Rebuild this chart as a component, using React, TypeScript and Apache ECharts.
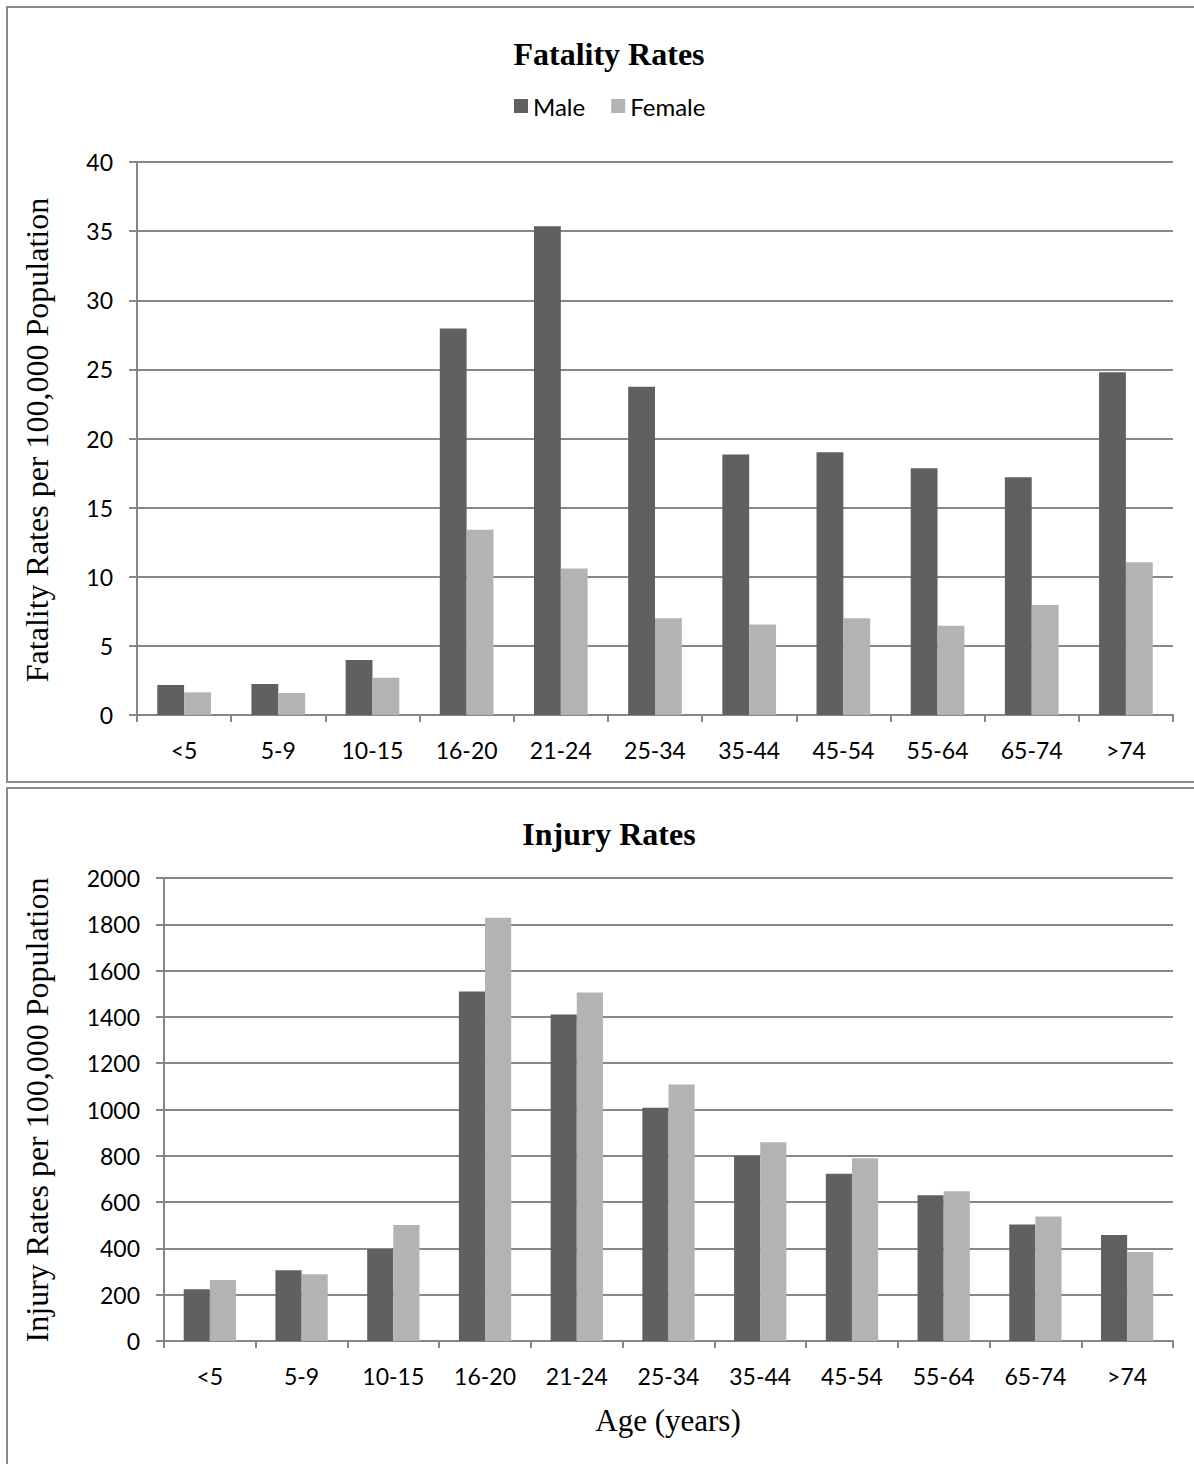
import React, { useEffect, useRef } from "react";
import * as echarts from "echarts";

const categories = ["<5", "5-9", "10-15", "16-20", "21-24", "25-34", "35-44", "45-54", "55-64", "65-74", ">74"];
const fatalityMale = [2.17, 2.24, 3.98, 27.95, 35.35, 23.75, 18.85, 19.0, 17.85, 17.2, 24.8];
const fatalityFemale = [1.64, 1.59, 2.7, 13.4, 10.6, 7.0, 6.55, 7.0, 6.45, 7.95, 11.05];
const injuryMale = [224, 306, 397, 1510, 1410, 1008, 800, 722, 630, 503, 458];
const injuryFemale = [264, 288, 501, 1828, 1505, 1108, 859, 789, 647, 538, 384];
const seriesNames = ["Male", "Female"];

const MALE = "#606060";
const FEMALE = "#b3b3b3";
const GRIDC = "#878787";
const SANS = "Lato, 'Open Sans', sans-serif";
const SERIF = "'Liberation Serif', 'DejaVu Serif', serif";

export default function App() {
  const ref = useRef<HTMLDivElement>(null);
  useEffect(() => {
    if (!ref.current) return;
    const chart = echarts.init(ref.current, null, { renderer: "svg" });
    const xAxisCommon = (gridIndex: number) => ({
      type: "category",
      gridIndex,
      data: categories,
      axisLine: { show: true, lineStyle: { color: GRIDC, width: 2 } },
      axisTick: { show: true, length: 7, alignWithLabel: false, lineStyle: { color: GRIDC, width: 2 } },
      axisLabel: { color: "#000", fontSize: 23, fontFamily: SANS, margin: 23, interval: 0 },
      splitLine: { show: false },
    });
    const yAxisCommon = (gridIndex: number, max: number, interval: number) => ({
      type: "value",
      gridIndex,
      min: 0,
      max,
      interval,
      axisLine: { show: true, lineStyle: { color: GRIDC, width: 2 } },
      axisTick: { show: true, length: 8, lineStyle: { color: GRIDC, width: 2 } },
      axisLabel: {
        color: "#000",
        fontSize: 23,
        fontFamily: SANS,
        margin: 24,
        formatter: (v: number) => String(v),
      },
      splitLine: { show: true, lineStyle: { color: GRIDC, width: 2 } },
    });
    const bar = (name: string, data: number[], color: string, idx: number) => ({
      type: "bar",
      name,
      data,
      xAxisIndex: idx,
      yAxisIndex: idx,
      barGap: "0%",
      barCategoryGap: "43%",
      itemStyle: { color },
    });
    chart.setOption({
      animation: false,
      backgroundColor: "#fff",
      title: [
        {
          text: "Fatality Rates",
          left: 604,
          textAlign: "center",
          top: 33,
          textStyle: { fontFamily: SERIF, fontWeight: "bold", fontSize: 32, color: "#000" },
        },
        {
          text: "Injury Rates",
          left: 604,
          textAlign: "center",
          top: 813,
          textStyle: { fontFamily: SERIF, fontWeight: "bold", fontSize: 32, color: "#000" },
        },
      ],
      legend: {
        data: seriesNames,
        top: 89,
        left: 509,
        itemWidth: 14,
        itemHeight: 14,
        itemGap: 26,
        icon: "rect",
        textStyle: { fontSize: 24, fontFamily: SANS, color: "#000" },
      },
      grid: [
        { left: 137, right: 21, top: 162, height: 553 },
        { left: 164, right: 21, top: 878, height: 463 },
      ],
      xAxis: [xAxisCommon(0), xAxisCommon(1)],
      yAxis: [yAxisCommon(0, 40, 5), yAxisCommon(1, 2000, 200)],
      series: [
        bar(seriesNames[0], fatalityMale, MALE, 0),
        bar(seriesNames[1], fatalityFemale, FEMALE, 0),
        bar(seriesNames[0], injuryMale, MALE, 1),
        bar(seriesNames[1], injuryFemale, FEMALE, 1),
      ],
      graphic: [
        {
          type: "rect",
          shape: { x: 7, y: 7, width: 1200, height: 775 },
          style: { fill: "none", stroke: "#8a8a8a", lineWidth: 2 },
          silent: true,
        },
        {
          type: "rect",
          shape: { x: 7, y: 788, width: 1200, height: 720 },
          style: { fill: "none", stroke: "#8a8a8a", lineWidth: 2 },
          silent: true,
        },
        {
          type: "text",
          x: 37,
          y: 440,
          rotation: Math.PI / 2,
          style: {
            text: "Fatality Rates per 100,000 Population",
            fontFamily: SERIF,
            fontSize: 32,
            fill: "#000",
            align: "center",
            verticalAlign: "middle",
          },
        },
        {
          type: "text",
          x: 37,
          y: 1110,
          rotation: Math.PI / 2,
          style: {
            text: "Injury Rates per 100,000 Population",
            fontFamily: SERIF,
            fontSize: 32,
            fill: "#000",
            align: "center",
            verticalAlign: "middle",
          },
        },
        {
          type: "text",
          x: 668,
          y: 1420,
          style: {
            text: "Age (years)",
            fontFamily: SERIF,
            fontSize: 31,
            fill: "#000",
            align: "center",
            verticalAlign: "middle",
          },
        },
      ],
    });
    return () => chart.dispose();
  }, []);
  return (
    <div
      ref={ref}
      style={{ position: "absolute", left: 0, top: 0, width: 1194, height: 1464, background: "#fff" }}
    />
  );
}
